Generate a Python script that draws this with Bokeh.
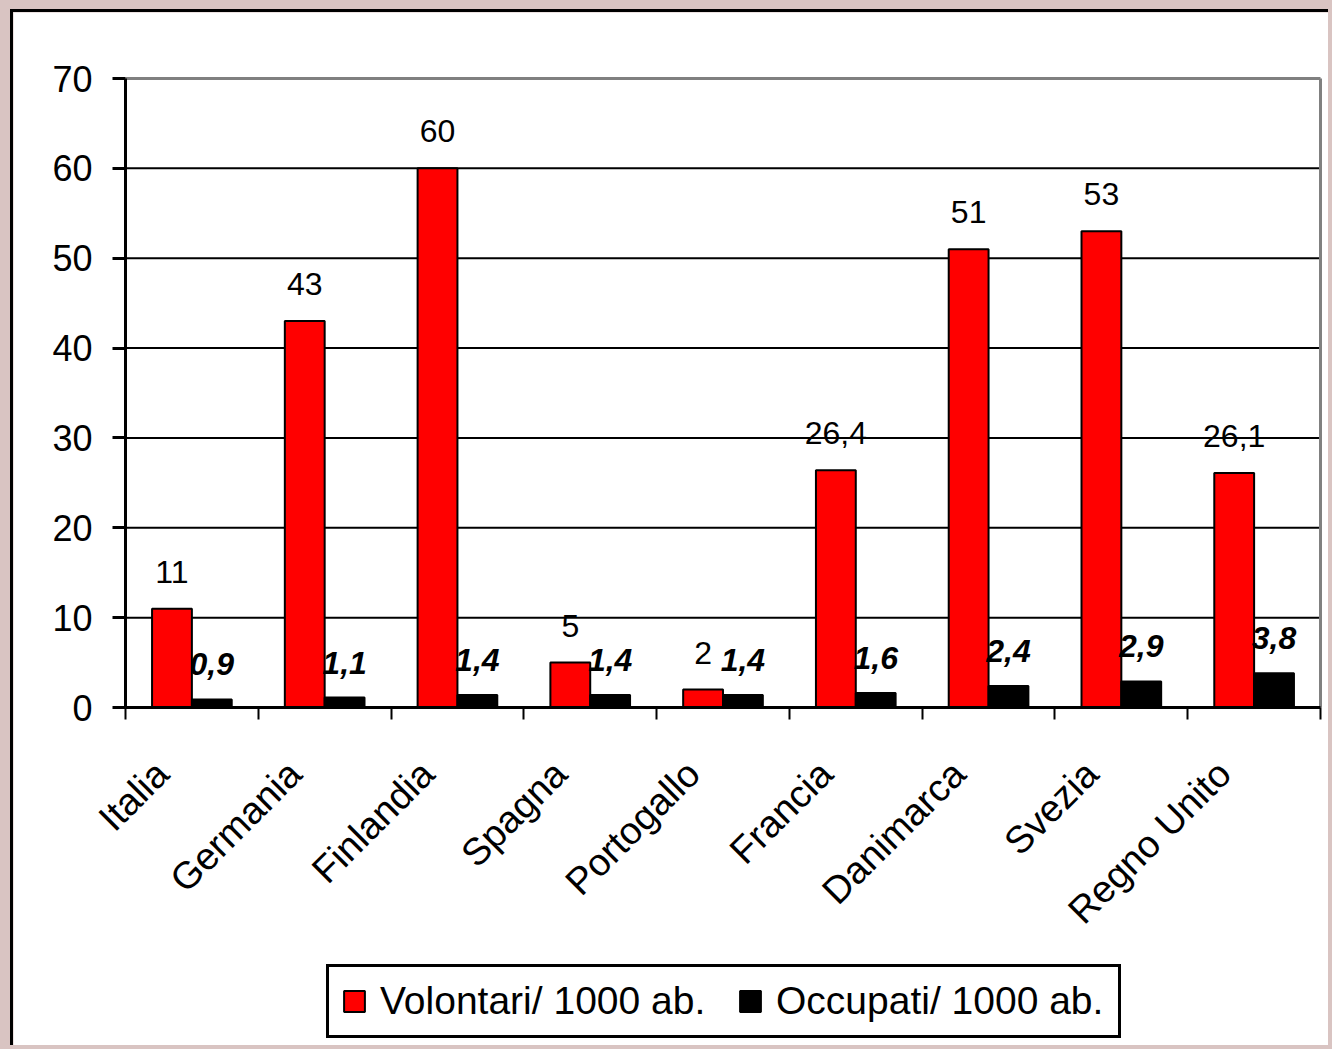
import math
from bokeh.plotting import figure
from bokeh.models import (ColumnDataSource, FixedTicker, Legend, LegendItem,
                          GlobalInlineStyleSheet, Range1d)
from bokeh.transform import dodge
from bokeh.core.properties import value
from bokeh.embed import file_html
from bokeh.resources import INLINE

countries = ["Italia", "Germania", "Finlandia", "Spagna", "Portogallo",
             "Francia", "Danimarca", "Svezia", "Regno Unito"]
volontari = [11, 43, 60, 5, 2, 26.4, 51, 53, 26.1]
occupati = [0.9, 1.1, 1.4, 1.4, 1.4, 1.6, 2.4, 2.9, 3.8]
volontari_labels = ["11", "43", "60", "5", "2", "26,4", "51", "53", "26,1"]
occupati_labels = ["0,9", "1,1", "1,4", "1,4", "1,4", "1,6", "2,4", "2,9", "3,8"]
y_ticks = [0, 10, 20, 30, 40, 50, 60, 70]
grid_values = [10, 20, 30, 40, 50, 60]
y_max = 70
n_cat = len(countries)

FONT = "Liberation Sans"

# Canvas geometry (page px): canvas spans x 13..1331, y 12..1048.
# Plot area: x 125..1320 (categories 0..9), y 707..78 (values 0..70).
CX0, CX1, CY0, CY1 = 13, 1331, 12, 1048
AX0, AX1, AY0, AY1 = 125, 1320, 707, 78
px_x = (AX1 - AX0) / n_cat
px_y = (AY0 - AY1) / y_max
x_lo = -(AX0 - CX0) / px_x
x_hi = n_cat + (CX1 - AX1) / px_x
y_lo = -(CY1 - AY0) / px_y
y_hi = y_max + (AY1 - CY0) / px_y

centers = [i + 0.5 for i in range(n_cat)]
src = ColumnDataSource(dict(x=centers, vol=volontari, occ=occupati,
                            vl=volontari_labels, ol=occupati_labels))

p = figure(width=CX1 - CX0, height=CY1 - CY0, x_range=Range1d(x_lo, x_hi),
           y_range=Range1d(y_lo, y_hi),
           output_backend="svg", toolbar_location=None,
           min_border_left=0, min_border_top=0, min_border_right=0,
           min_border_bottom=0)
p.styles = {"border-left": "3px solid black", "border-top": "3px solid black",
            "margin-left": "10px", "margin-top": "9px"}
p.stylesheets = [GlobalInlineStyleSheet(css="body{background-color:#d9c4c2;}")]

p.background_fill_color = "white"
p.border_fill_color = "white"
p.outline_line_color = None
p.xgrid.visible = False
p.ygrid.visible = False

# horizontal grid lines across the plot area
p.segment(x0=0, x1=n_cat, y0=grid_values, y1=grid_values,
          line_color="black", line_width=2)
# gray plot-area border (top and right)
p.segment(x0=[0, n_cat], x1=[n_cat, n_cat], y0=[y_max, 0], y1=[y_max, y_max],
          line_color="#808080", line_width=3)

r1 = p.vbar(x=dodge("x", -0.15), top="vol", width=0.3, bottom=0,
            fill_color="#ff0000", line_color="black", line_width=2, source=src)
r2 = p.vbar(x=dodge("x", 0.15), top="occ", width=0.3, bottom=0,
            fill_color="black", line_color="black", line_width=2, source=src)

p.text(x=dodge("x", -0.15), y="vol", text="vl", text_align="center",
       text_baseline="alphabetic", y_offset=-37, text_font=value(FONT),
       text_font_size="32px", text_color="black", source=src)
p.text(x=dodge("x", 0.15), y="occ", text="ol", text_align="center",
       text_baseline="alphabetic", y_offset=-35, text_font=value(FONT),
       text_font_size="32px", text_font_style="bold italic", text_color="black",
       source=src)

# y axis at category position 0
ya = p.yaxis[0]
ya.fixed_location = 0
ya.bounds = (0, y_max)
ya.ticker = FixedTicker(ticks=y_ticks)
ya.axis_line_width = 3
ya.axis_line_color = "black"
ya.major_tick_out = 13
ya.major_tick_in = 0
ya.major_tick_line_width = 3
ya.minor_tick_line_color = None
ya.major_label_text_font = FONT
ya.major_label_text_font_size = "36px"
ya.major_label_text_color = "black"
ya.major_label_standoff = 20

# x axis at value 0
NBSP = "\u00a0"
xa = p.xaxis[0]
xa.fixed_location = 0
xa.bounds = (0, n_cat)
xa.ticker = FixedTicker(ticks=centers, minor_ticks=list(range(n_cat + 1)))
xa.major_label_overrides = {c: n + NBSP * 4 for c, n in zip(centers, countries)}
xa.axis_line_width = 3
xa.axis_line_color = "black"
xa.major_tick_out = 0
xa.major_tick_in = 0
xa.minor_tick_out = 12
xa.minor_tick_in = 0
xa.minor_tick_line_width = 2
xa.minor_tick_line_color = "black"
xa.major_label_orientation = math.pi / 4
xa.major_label_text_font = FONT
xa.major_label_text_font_size = "38px"
xa.major_label_text_color = "black"
xa.major_label_standoff = 18

legend = Legend(items=[LegendItem(label="Volontari/ 1000 ab.", renderers=[r1]),
                       LegendItem(label="Occupati/ 1000 ab.", renderers=[r2])],
                orientation="horizontal", location=(326 - CX0, CY1 - 1038))
legend.label_text_font = FONT
legend.label_text_font_size = "39px"
legend.label_text_color = "black"
legend.label_width = 330
legend.glyph_width = 26
legend.glyph_height = 26
legend.label_standoff = 13
legend.spacing = 27
legend.padding = 12
legend.margin = 0
legend.border_line_color = "black"
legend.border_line_width = 3
legend.border_line_alpha = 1
legend.background_fill_color = "white"
legend.background_fill_alpha = 1
p.add_layout(legend)

open("out.html", "w").write(file_html(p, INLINE))
